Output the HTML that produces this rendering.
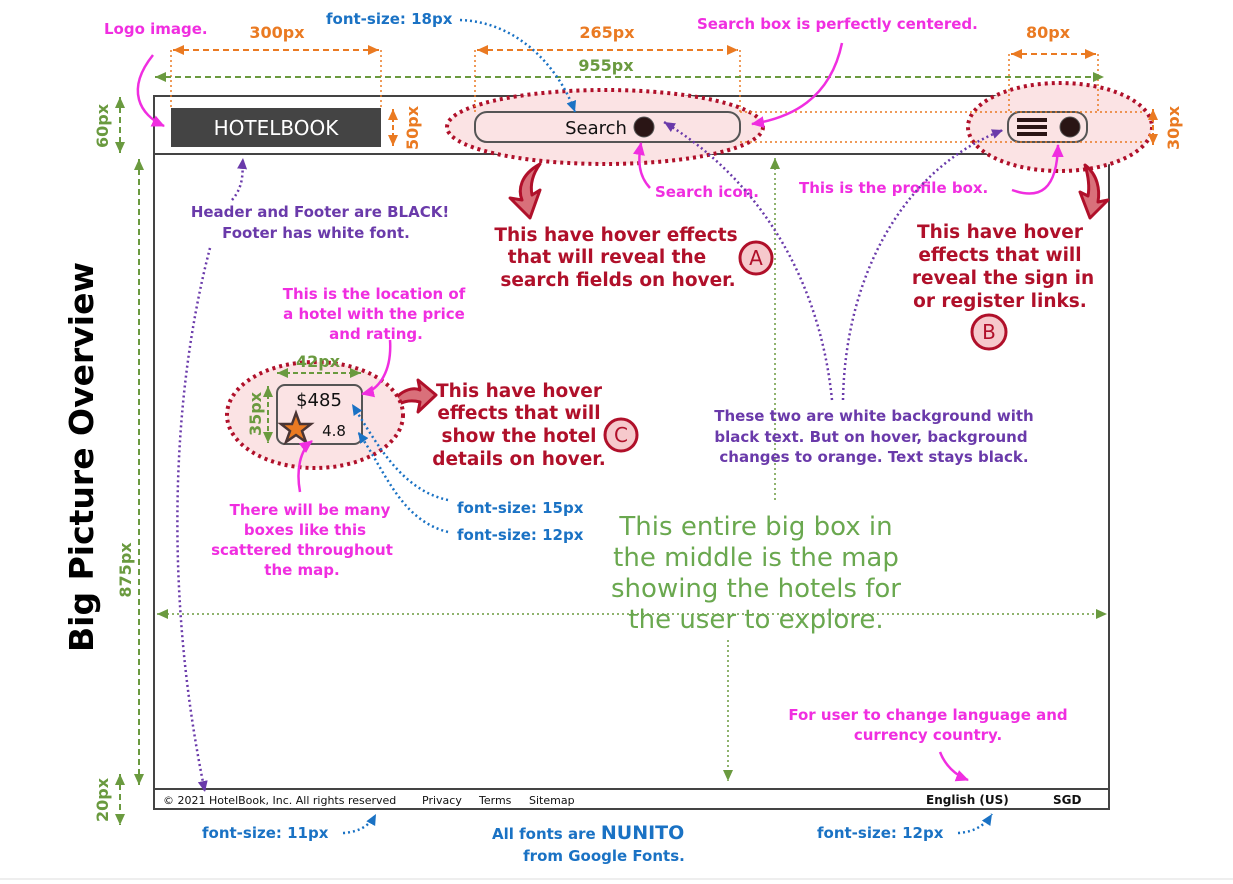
<!DOCTYPE html>
<html><head><meta charset="utf-8"><style>
html,body{margin:0;padding:0;background:#fff;}
svg{display:block;}
text{font-family:"DejaVu Sans","Liberation Sans",sans-serif;}
.or{fill:#ea7a22;font-weight:bold;font-size:16px;}
.gr{fill:#6a9a3f;font-weight:bold;font-size:16px;}
.pk{fill:#f02ee0;font-weight:bold;font-size:15px;}
.pu{fill:#6a3aaa;font-weight:bold;font-size:15px;}
.bl{fill:#1a72c4;font-weight:bold;font-size:15px;}
.rd{fill:#b0102a;font-weight:bold;font-size:18.5px;}
</style></head><body>
<svg width="1233" height="884" viewBox="0 0 1233 884" xmlns="http://www.w3.org/2000/svg">
<defs>
<marker id="ao" markerUnits="userSpaceOnUse" markerWidth="12" markerHeight="12" refX="11" refY="6" orient="auto-start-reverse"><path d="M0,1 L11,6 L0,11z" fill="#ea7a22"/></marker>
<marker id="ag" markerUnits="userSpaceOnUse" markerWidth="12" markerHeight="12" refX="11" refY="6" orient="auto-start-reverse"><path d="M0,1 L11,6 L0,11z" fill="#6a9a3f"/></marker>
<marker id="ap" markerUnits="userSpaceOnUse" markerWidth="14" markerHeight="14" refX="12" refY="7" orient="auto"><path d="M0,1 L13,7 L0,13z" fill="#f02ee0"/></marker>
<marker id="au" markerUnits="userSpaceOnUse" markerWidth="12" markerHeight="12" refX="11" refY="6" orient="auto"><path d="M0,1 L11,6 L0,11z" fill="#6a3aaa"/></marker>
<marker id="ab" markerUnits="userSpaceOnUse" markerWidth="12" markerHeight="12" refX="11" refY="6" orient="auto"><path d="M0,1 L11,6 L0,11z" fill="#1a72c4"/></marker>
</defs>
<line x1="0" y1="879" x2="1233" y2="879" stroke="#ddd"/>
<rect x="154" y="96" width="955" height="713" fill="#fff" stroke="#444" stroke-width="2"/>
<line x1="154" y1="154" x2="1109" y2="154" stroke="#444" stroke-width="2"/>
<line x1="154" y1="789" x2="1109" y2="789" stroke="#444" stroke-width="2"/>
<rect x="171" y="108" width="210" height="39" fill="#444"/>
<text x="276" y="135" fill="#fff" font-size="20" text-anchor="middle" font-family="Liberation Sans">HOTELBOOK</text>
<ellipse cx="605" cy="127" rx="158" ry="37" fill="#fbe3e4" stroke="#b0102a" stroke-width="4" stroke-dasharray="3 4"/>
<rect x="475" y="112" width="265" height="30" rx="12" fill="#fbe3e4" stroke="#555" stroke-width="2"/>
<text x="596" y="134" font-size="18" text-anchor="middle" font-family="Liberation Sans" fill="#111">Search</text>
<circle cx="644" cy="127" r="10" fill="#2a1515" stroke="#555"/>
<ellipse cx="1060" cy="127" rx="92" ry="44" fill="#fbe3e4" stroke="#b0102a" stroke-width="4" stroke-dasharray="3 4"/>
<rect x="1008" y="112" width="79" height="30" rx="12" fill="#fbe3e4" stroke="#555" stroke-width="2"/>
<rect x="1017" y="118" width="30" height="4" fill="#2a1515"/><rect x="1017" y="125" width="30" height="4" fill="#2a1515"/><rect x="1017" y="132" width="30" height="4" fill="#2a1515"/>
<circle cx="1070" cy="127" r="10" fill="#2a1515" stroke="#555"/>
<g stroke="#ea7a22" stroke-width="2" fill="none">
<line x1="173" y1="50" x2="379" y2="50" stroke-dasharray="6 4" marker-start="url(#ao)" marker-end="url(#ao)"/>
<line x1="477" y1="50" x2="738" y2="50" stroke-dasharray="6 4" marker-start="url(#ao)" marker-end="url(#ao)"/>
<line x1="1011" y1="54" x2="1096" y2="54" stroke-dasharray="6 4" marker-start="url(#ao)" marker-end="url(#ao)"/>
<line x1="393" y1="109" x2="393" y2="146" stroke-dasharray="5 3" marker-start="url(#ao)" marker-end="url(#ao)"/>
<line x1="1153" y1="109" x2="1153" y2="145" stroke-dasharray="5 3" marker-start="url(#ao)" marker-end="url(#ao)"/>
</g>
<g stroke="#ea7a22" stroke-width="1.5" fill="none" stroke-dasharray="2 3">
<line x1="171" y1="50" x2="171" y2="108"/><line x1="381" y1="50" x2="381" y2="108"/>
<line x1="475" y1="50" x2="475" y2="112"/><line x1="740" y1="50" x2="740" y2="112"/>
<line x1="1009" y1="54" x2="1009" y2="112"/><line x1="1098" y1="54" x2="1098" y2="112"/>
<line x1="740" y1="112" x2="1145" y2="112"/><line x1="740" y1="142" x2="1145" y2="142"/>
</g>
<text x="277" y="38" class="or" text-anchor="middle">300px</text>
<text x="607" y="38" class="or" text-anchor="middle">265px</text>
<text x="1048" y="38" class="or" text-anchor="middle">80px</text>
<text transform="translate(418,128) rotate(-90)" class="or" text-anchor="middle">50px</text>
<text transform="translate(1179,128) rotate(-90)" class="or" text-anchor="middle">30px</text>
<g stroke="#6a9a3f" stroke-width="2" fill="none" stroke-dasharray="6 4">
<line x1="155" y1="77" x2="1104" y2="77" marker-start="url(#ag)" marker-end="url(#ag)"/>
<line x1="120" y1="97" x2="120" y2="153" marker-start="url(#ag)" marker-end="url(#ag)"/>
<line x1="139" y1="159" x2="139" y2="785" marker-start="url(#ag)" marker-end="url(#ag)"/>
<line x1="120" y1="774" x2="120" y2="825" marker-start="url(#ag)" marker-end="url(#ag)"/>
</g>
<g stroke="#6a9a3f" stroke-width="1.5" fill="none" stroke-dasharray="2 3">
<line x1="775" y1="500" x2="775" y2="158" marker-end="url(#ag)"/>
<line x1="157" y1="614" x2="1107" y2="614" marker-start="url(#ag)" marker-end="url(#ag)"/>
<line x1="728" y1="640" x2="728" y2="781" marker-end="url(#ag)"/>
</g>
<text x="606" y="71" class="gr" text-anchor="middle">955px</text>
<text transform="translate(108,126) rotate(-90)" class="gr" text-anchor="middle">60px</text>
<text transform="translate(131,570) rotate(-90)" class="gr" text-anchor="middle">875px</text>
<text transform="translate(108,800) rotate(-90)" class="gr" text-anchor="middle">20px</text>
<text transform="translate(93,457) rotate(-90)" font-size="33" font-weight="bold" fill="#000" text-anchor="middle">Big Picture Overview</text>
<g fill="#6aa84f" font-size="26" text-anchor="middle">
<text x="756" y="535">This entire big box in</text>
<text x="756" y="566">the middle is the map</text>
<text x="756" y="597">showing the hotels for</text>
<text x="756" y="628">the user to explore.</text>
</g>
<text x="104" y="34" class="pk">Logo image.</text>
<text x="326" y="24" class="bl">font-size: 18px</text>
<text x="697" y="29" class="pk">Search box is perfectly centered.</text>
<path d="M153,55 C125,90 140,115 164,126" stroke="#f02ee0" stroke-width="2.5" fill="none" marker-end="url(#ap)"/>
<path d="M460,20 C520,22 560,70 575,112" stroke="#1a72c4" stroke-width="2.5" fill="none" stroke-dasharray="2 3" marker-end="url(#ab)"/>
<path d="M842,43 C830,100 790,118 752,124" stroke="#f02ee0" stroke-width="2.5" fill="none" marker-end="url(#ap)"/>
<text x="655" y="197" class="pk">Search icon.</text>
<path d="M650,188 C638,175 638,160 641,143" stroke="#f02ee0" stroke-width="2.5" fill="none" marker-end="url(#ap)"/>
<text x="799" y="193" class="pk">This is the profile box.</text>
<path d="M1012,190 C1040,200 1057,190 1058,145" stroke="#f02ee0" stroke-width="2.5" fill="none" marker-end="url(#ap)"/>
<text x="320" y="217" class="pu" text-anchor="middle">Header and Footer are BLACK!</text>
<text x="316" y="238" class="pu" text-anchor="middle">Footer has white font.</text>
<path d="M232,200 C245,185 242,170 243,158" stroke="#6a3aaa" stroke-width="2.5" fill="none" stroke-dasharray="2 3" marker-end="url(#au)"/>
<path d="M210,248 C170,400 165,600 205,792" stroke="#6a3aaa" stroke-width="2.5" fill="none" stroke-dasharray="2 3" marker-end="url(#au)"/>
<path d="M832,400 C820,280 760,180 664,122" stroke="#6a3aaa" stroke-width="2.5" fill="none" stroke-dasharray="2 3" marker-end="url(#au)"/>
<path d="M843,400 C845,280 900,170 1003,130" stroke="#6a3aaa" stroke-width="2.5" fill="none" stroke-dasharray="2 3" marker-end="url(#au)"/>
<text x="874" y="421" class="pu" text-anchor="middle">These two are white background with</text>
<text x="871" y="442" class="pu" text-anchor="middle">black text. But on hover, background</text>
<text x="874" y="462" class="pu" text-anchor="middle">changes to orange. Text stays black.</text>
<g text-anchor="middle">
<text x="616" y="241" class="rd">This have hover effects</text>
<text x="607" y="263" class="rd">that will reveal the</text>
<text x="618" y="286" class="rd">search fields on hover.</text>
<text x="1000" y="238" class="rd">This have hover</text>
<text x="1000" y="261" class="rd">effects that will</text>
<text x="1003" y="284" class="rd">reveal the sign in</text>
<text x="1000" y="307" class="rd">or register links.</text>
<text x="519" y="397" class="rd">This have hover</text>
<text x="519" y="419" class="rd">effects that will</text>
<text x="519" y="442" class="rd">show the hotel</text>
<text x="519" y="465" class="rd">details on hover.</text>
</g>
<g stroke="#b0102a" stroke-width="3" fill="#f6c9cc">
<circle cx="756" cy="258" r="16"/><circle cx="989" cy="332" r="17"/><circle cx="621" cy="435" r="16"/>
</g>
<g fill="#b0102a" font-size="20" text-anchor="middle" font-family="Liberation Sans">
<text x="756" y="265">A</text><text x="989" y="339">B</text><text x="621" y="442">C</text>
</g>
<g fill="#d9707a" stroke="#b0102a" stroke-width="3" stroke-linejoin="round">
<path d="M540,164 C520,175 518,190 522,200 L510,198 L530,218 L540,190 L532,195 C530,185 532,175 540,164z"/>
<path d="M1085,165 C1098,175 1100,190 1098,202 L1108,200 L1090,218 L1080,192 L1088,196 C1090,185 1088,175 1085,165z"/>
<path d="M385,420 C390,395 410,385 420,390 L418,380 L436,395 L418,412 L420,402 C405,398 392,405 385,420z"/>
</g>
<ellipse cx="315" cy="415" rx="88" ry="53" fill="#fbe3e4" stroke="#b0102a" stroke-width="4" stroke-dasharray="3 4"/>
<rect x="277" y="385" width="85" height="59" rx="8" fill="#fbe3e4" stroke="#555" stroke-width="2"/>
<text x="319" y="406" font-size="18" font-family="Liberation Sans" fill="#111" text-anchor="middle">$485</text>
<text x="334" y="436" font-size="15" font-family="Liberation Sans" fill="#111" text-anchor="middle">4.8</text>
<path d="M296,413 L300,424 L311,424 L302,431 L306,442 L296,435 L286,442 L290,431 L281,424 L292,424z" fill="#ea7a22" stroke="#4a3535" stroke-width="2.5"/>
<g stroke="#6a9a3f" stroke-width="2" fill="none" stroke-dasharray="5 3">
<line x1="277" y1="373" x2="361" y2="373" marker-start="url(#ag)" marker-end="url(#ag)"/>
<line x1="268" y1="386" x2="268" y2="443" marker-start="url(#ag)" marker-end="url(#ag)"/>
</g>
<text x="318" y="367" class="gr" text-anchor="middle">42px</text>
<text transform="translate(261,414) rotate(-90)" class="gr" text-anchor="middle">35px</text>
<text x="374" y="299" class="pk" text-anchor="middle">This is the location of</text>
<text x="374" y="319" class="pk" text-anchor="middle">a hotel with the price</text>
<text x="376" y="339" class="pk" text-anchor="middle">and rating.</text>
<path d="M390,340 C392,370 380,390 362,394" stroke="#f02ee0" stroke-width="2.5" fill="none" marker-end="url(#ap)"/>
<text x="310" y="515" class="pk" text-anchor="middle">There will be many</text>
<text x="305" y="535" class="pk" text-anchor="middle">boxes like this</text>
<text x="302" y="555" class="pk" text-anchor="middle">scattered throughout</text>
<text x="302" y="575" class="pk" text-anchor="middle">the map.</text>
<path d="M300,492 C296,470 300,450 312,441" stroke="#f02ee0" stroke-width="2.5" fill="none" marker-end="url(#ap)"/>
<path d="M448,500 C400,490 375,440 352,404" stroke="#1a72c4" stroke-width="2.5" fill="none" stroke-dasharray="2 3" marker-end="url(#ab)"/>
<path d="M448,532 C400,520 385,470 358,432" stroke="#1a72c4" stroke-width="2.5" fill="none" stroke-dasharray="2 3" marker-end="url(#ab)"/>
<text x="457" y="513" class="bl">font-size: 15px</text>
<text x="457" y="540" class="bl">font-size: 12px</text>
<g font-family="Liberation Sans" font-size="11" fill="#111">
<text x="163" y="804">© 2021 HotelBook, Inc. All rights reserved</text>
<text x="422" y="804">Privacy</text><text x="479" y="804">Terms</text><text x="529" y="804">Sitemap</text>
</g>
<g font-family="Liberation Sans" font-size="12" font-weight="bold" fill="#111">
<text x="926" y="804">English (US)</text><text x="1053" y="804">SGD</text>
</g>
<text x="928" y="720" class="pk" text-anchor="middle">For user to change language and</text>
<text x="928" y="740" class="pk" text-anchor="middle">currency country.</text>
<path d="M940,752 C945,765 955,775 968,780" stroke="#f02ee0" stroke-width="2.5" fill="none" marker-end="url(#ap)"/>
<text x="202" y="838" class="bl">font-size: 11px</text>
<path d="M343,833 C360,832 370,825 376,814" stroke="#1a72c4" stroke-width="2.5" fill="none" stroke-dasharray="2 3" marker-end="url(#ab)"/>
<text x="817" y="838" class="bl">font-size: 12px</text>
<path d="M958,833 C975,832 985,825 992,814" stroke="#1a72c4" stroke-width="2.5" fill="none" stroke-dasharray="2 3" marker-end="url(#ab)"/>
<text x="492" y="839" class="bl">All fonts are <tspan font-size="19">NUNITO</tspan></text>
<text x="604" y="861" class="bl" text-anchor="middle">from Google Fonts.</text>
</svg>
</body></html>
